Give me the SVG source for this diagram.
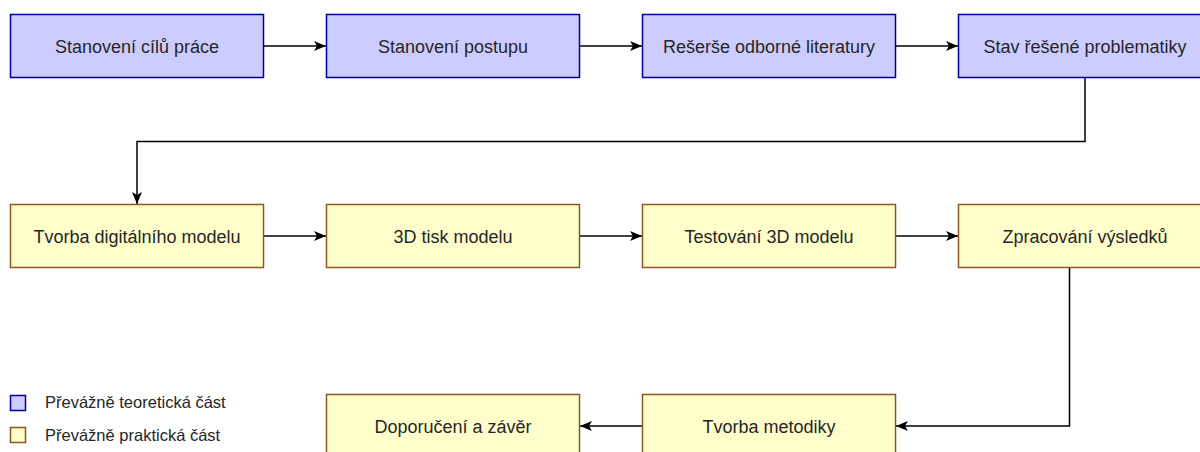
<svg xmlns="http://www.w3.org/2000/svg" width="1200" height="452" viewBox="0 0 1200 452">
<defs>
<style>
.t{fill:#f0f0ff}
.blue{fill:#ccccff;stroke:#000099;stroke-width:1.5}
.yel{fill:#ffffcc;stroke:#8f5420;stroke-width:1.5}
.lbl{font-family:"Liberation Sans",Arial,sans-serif;font-size:18px;fill:#262626;text-anchor:middle}
.leg{font-family:"Liberation Sans",Arial,sans-serif;font-size:16.5px;fill:#262626}
.con{fill:none;stroke:#000;stroke-width:1.5;marker-end:url(#arr)}
</style>
<marker id="arr" markerUnits="userSpaceOnUse" viewBox="0 0 12 10" markerWidth="12" markerHeight="10" refX="12" refY="5" orient="auto">
<path d="M0,0 L12,5 L0,10 L3,5 Z" fill="#000"/>
</marker>
</defs>
<rect width="1200" height="452" fill="#fff"/>
<g id="connectors">
<path class="con" d="M264,46 H326"/>
<path class="con" d="M580,46 H642"/>
<path class="con" d="M896,46 H958"/>
<path class="con" d="M1085,78 V141.5 H137 V204"/>
<path class="con" d="M264,236 H326"/>
<path class="con" d="M580,236 H642"/>
<path class="con" d="M896,236 H958"/>
<path class="con" d="M1069.5,268 V426 H896"/>
<path class="con" d="M642,426 H580"/>
</g>
<g id="n1"><rect class="blue" x="10.5" y="14.5" width="253" height="63"/><text class="lbl" x="137" y="52.5">Stanovení cílů práce</text></g>
<g id="n2"><rect class="blue" x="326.5" y="14.5" width="253" height="63"/><text class="lbl" x="453" y="52.5">Stanovení postupu</text></g>
<g id="n3"><rect class="blue" x="642.5" y="14.5" width="253" height="63"/><text class="lbl" x="769" y="52.5">Rešerše odborné literatury</text></g>
<g id="n4"><rect class="blue" x="958.5" y="14.5" width="253" height="63"/><text class="lbl" x="1085" y="52.5">Stav řešené problematiky</text></g>
<g id="n5"><rect class="yel" x="10.5" y="204.5" width="253" height="63"/><text class="lbl" x="137" y="242.5">Tvorba digitálního modelu</text></g>
<g id="n6"><rect class="yel" x="326.5" y="204.5" width="253" height="63"/><text class="lbl" x="453" y="242.5">3D tisk modelu</text></g>
<g id="n7"><rect class="yel" x="642.5" y="204.5" width="253" height="63"/><text class="lbl" x="769" y="242.5">Testování 3D modelu</text></g>
<g id="n8"><rect class="yel" x="958.5" y="204.5" width="253" height="63"/><text class="lbl" x="1085" y="242.5">Zpracování výsledků</text></g>
<g id="n9"><rect class="yel" x="642.5" y="394.5" width="253" height="63"/><text class="lbl" x="769" y="432.5">Tvorba metodiky</text></g>
<g id="n10"><rect class="yel" x="326.5" y="394.5" width="253" height="63"/><text class="lbl" x="453" y="432.5">Doporučení a závěr</text></g>
<g id="legend">
<rect class="blue" x="10.5" y="395.5" width="15" height="15"/>
<text class="leg" x="45" y="408">Převážně teoretická část</text>
<rect class="yel" x="10.5" y="427.5" width="15" height="15"/>
<text class="leg" x="45" y="441">Převážně praktická část</text>
</g>
</svg>
